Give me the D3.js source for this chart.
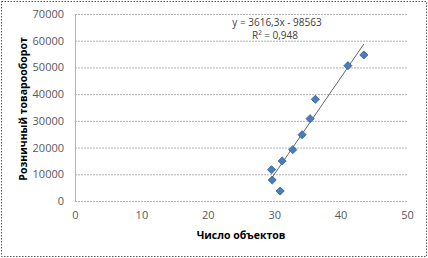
<!DOCTYPE html>
<meta charset="utf-8">
<script src="https://d3js.org/d3.v7.min.js"></script>
<style>
body { margin: 0; background: #fff; }
text { font-family: "Open Sans", "DejaVu Sans", sans-serif; }
.tick text { font-size: 11px; fill: #595959; }
.axisTitle { font-size: 10.5px; font-weight: bold; fill: #000; }
.eq { font-size: 10px; fill: #404040; }
</style>
<body></body>
<script>
// Число объектов / Розничный товарооборот
const objects = [43.5, 41.1, 36.2, 35.4, 34.2, 32.8, 31.2, 29.6, 29.7, 30.9];
const turnover = [54660, 50660, 38080, 30810, 24820, 19210, 14980, 11720, 7860, 3740];
const xTicks = [0, 10, 20, 30, 40, 50];
const yTicks = [0, 10000, 20000, 30000, 40000, 50000, 60000, 70000];
const slope = 3616.3, intercept = -98563;

const width = 428, height = 258;
const x = d3.scaleLinear().domain([0, 50]).range([75, 407]);
const y = d3.scaleLinear().domain([0, 70000]).range([201, 14]);

const svg = d3.select("body").append("svg")
  .attr("width", width).attr("height", height);

// outer dashed frame
svg.append("rect")
  .attr("x", 1.5).attr("y", 1.5)
  .attr("width", width - 3).attr("height", height - 3)
  .attr("fill", "white")
  .attr("stroke", "#555").attr("stroke-dasharray", "1.5 1.5");

// gridlines
svg.append("g").selectAll("line").data(yTicks).join("line")
  .attr("x1", x(0)).attr("x2", x(50))
  .attr("y1", d => y(d) + 0.5).attr("y2", d => y(d) + 0.5)
  .attr("stroke", "#b3b3b3").attr("stroke-dasharray", "2 1");

// left axis line
svg.append("line")
  .attr("x1", x(0) + 0.5).attr("x2", x(0) + 0.5)
  .attr("y1", y(70000)).attr("y2", y(0))
  .attr("stroke", "#b3b3b3");

// axes (labels only)
const yAxis = svg.append("g")
  .attr("transform", `translate(${x(0)},0)`)
  .call(d3.axisLeft(y).tickValues(yTicks).tickSize(0).tickPadding(11).tickFormat(d3.format("d")));
yAxis.select(".domain").remove();

const xAxis = svg.append("g")
  .attr("transform", `translate(0,${y(0)})`)
  .call(d3.axisBottom(x).tickValues(xTicks).tickSize(0).tickPadding(10));
xAxis.select(".domain").remove();

// trendline
const xMin = d3.min(objects), xMax = d3.max(objects);
svg.append("line")
  .attr("x1", x(xMin)).attr("y1", y(slope * xMin + intercept))
  .attr("x2", x(xMax)).attr("y2", y(slope * xMax + intercept))
  .attr("stroke", "#666").attr("stroke-width", 1);

// markers
svg.append("g").selectAll("path").data(objects).join("path")
  .attr("d", d3.symbol(d3.symbolDiamond2, 42))
  .attr("transform", (d, i) => `translate(${x(d)},${y(turnover[i])})`)
  .attr("fill", "#4a7ebb").attr("stroke", "#2f5b94").attr("stroke-width", 0.8);

// equation
svg.append("text").attr("class", "eq")
  .attr("x", 277).attr("y", 26).attr("text-anchor", "middle")
  .text("y = 3616,3x - 98563");
svg.append("text").attr("class", "eq")
  .attr("x", 275).attr("y", 39).attr("text-anchor", "middle")
  .text("R² = 0,948");

// axis titles
svg.append("text").attr("class", "axisTitle")
  .attr("x", 241).attr("y", 239).attr("text-anchor", "middle")
  .text("Число объектов");
svg.append("text").attr("class", "axisTitle")
  .attr("transform", "translate(27,109) rotate(-90)")
  .attr("text-anchor", "middle")
  .text("Розничный товарооборот");
</script>
